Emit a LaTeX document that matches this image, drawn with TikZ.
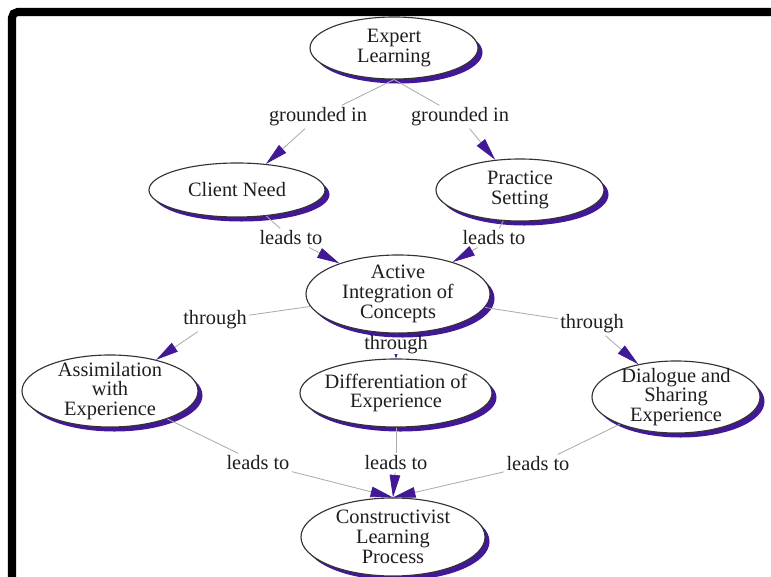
\documentclass[tikz,border=0pt]{standalone}
\usepackage{fontspec}
\setmainfont{Liberation Serif}
\usetikzlibrary{shapes.geometric,arrows.meta,shadows}
\definecolor{cmapviolet}{RGB}{66,24,150}
\definecolor{cmaptext}{RGB}{30,30,30}

\begin{document}
\begin{tikzpicture}[
    x=0.025cm, y=-0.025cm,
    font=\fontsize{14.5}{14}\selectfont,
    concept/.style={ellipse, draw=black!80, thick, fill=white, inner sep=0pt,
      general shadow={fill=cmapviolet, shadow xshift=3.2pt, shadow yshift=-3.2pt},
      label={[align=center, text=cmaptext]center:#1}},
    rel/.style={inner sep=1.5pt, text=cmaptext},
    link/.style={draw=gray!65, line width=0.6pt},
    lead/.style={link, -{Triangle[length=16pt, width=7.5pt, color=cmapviolet]}},
  ]
  \useasboundingbox (0,0) rectangle (771,577);
  \draw[line width=5.7pt, rounded corners=4pt] (12,590) -- (12,12) -- (790,12);

  % concepts
  \node[concept={Expert\\Learning}, minimum width=4.2cm, minimum height=1.55cm] (expert) at (394,48) {};
  \node[concept={Client Need}, minimum width=4.4cm, minimum height=1.35cm] (client) at (237,190) {};
  \node[concept={Practice\\Setting}, minimum width=4.2cm, minimum height=1.55cm] (practice) at (520,190) {};
  \node[concept={Active\\Integration of\\Concepts}, minimum width=4.6cm, minimum height=1.95cm] (active) at (398,294) {};
  \node[concept={Assimilation\\with\\Experience}, minimum width=4.4cm, minimum height=1.8cm] (assim) at (110,391) {};
  \node[concept={Differentiation of\\Experience}, minimum width=4.8cm, minimum height=1.7cm] (differ) at (396,393) {};
  \node[concept={Dialogue and\\Sharing\\Experience}, minimum width=4.2cm, minimum height=1.8cm] (dialogue) at (676,397) {};
  \node[concept={Constructivist\\Learning\\Process}, minimum width=4.6cm, minimum height=1.95cm] (constr) at (393,537) {};

  % linking phrases
  \node[rel] (grounded1) at (318,117) {grounded in};
  \node[rel] (grounded2) at (460,117) {grounded in};
  \node[rel] (leads1) at (291,238) {leads to};
  \node[rel] (leads2) at (494,238) {leads to};
  \node[rel] (through1) at (215,320) {through};
  \node[rel] (through2) at (396,345) {through};
  \node[rel] (through3) at (592,324) {through};
  \node[rel] (leads3) at (258,463) {leads to};
  \node[rel] (leads4) at (396,463) {leads to};
  \node[rel] (leads5) at (538,464) {leads to};

  \draw[link] (expert.south) -- (grounded1);
  \draw[lead] (grounded1) -- (client);
  \draw[link] (expert.south) -- (grounded2);
  \draw[lead] (grounded2) -- (practice);
  \draw[link] (client) -- (leads1);
  \draw[lead] (leads1) -- (active);
  \draw[link] (practice) -- (leads2);
  \draw[lead] (leads2) -- (active);
  \draw[link] (active) -- (through1);
  \draw[lead] (through1) -- (assim);
  \draw[link] (active) -- (through2);
  \draw[link, -{Triangle[length=3pt, width=2pt, color=cmapviolet]}] (through2) -- (differ);
  \draw[link] (active) -- (through3);
  \draw[lead] (through3) -- (dialogue);
  \draw[link] (assim) -- (leads3);
  \draw[lead] (leads3) -- (constr.north);
  \draw[link] (differ) -- (leads4);
  \draw[lead] (leads4) -- (constr.north);
  \draw[link] (dialogue) -- (leads5);
  \draw[lead] (leads5) -- (constr.north);
\end{tikzpicture}
\end{document}
